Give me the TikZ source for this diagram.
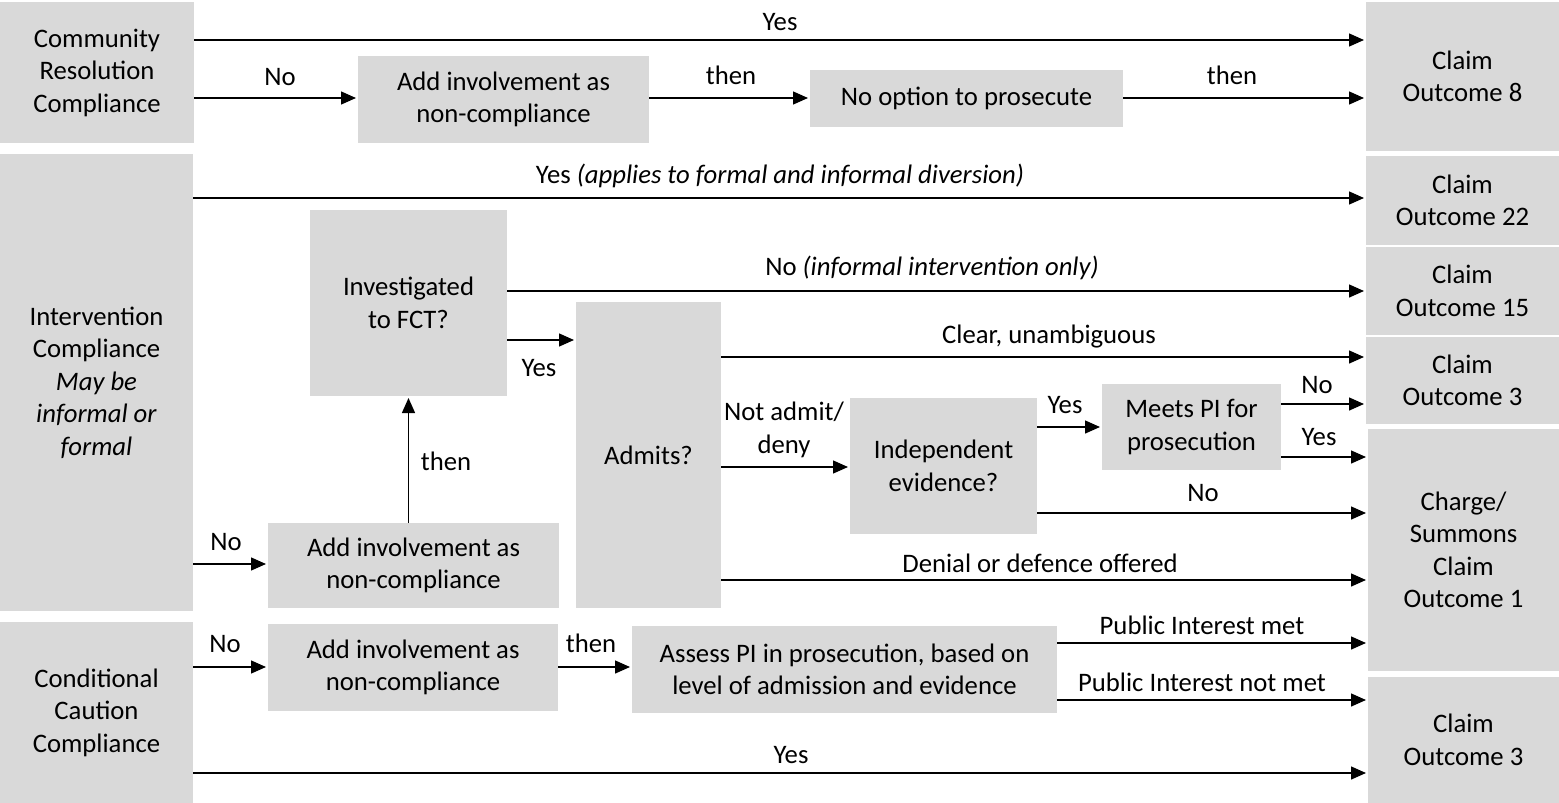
\documentclass[tikz,border=0pt]{standalone}
\usepackage{xcolor}
\usepackage{fontspec}
\setmainfont{Carlito}
\usetikzlibrary{arrows.meta}

\definecolor{boxgrey}{HTML}{D9D9D9}

\tikzset{
	box/.style={fill=boxgrey,draw=none,align=center,inner sep=0pt,outer sep=0pt},
	lbl/.style={align=center,inner sep=0pt},
	arr/.style={-{Triangle[length=15pt,width=13pt]},line width=1.4pt,shorten >=2pt},
}

\begin{document}
\begin{tikzpicture}[x=1pt,y=-1pt,font=\fontsize{26.7pt}{32.5pt}\selectfont]
			\useasboundingbox (0,0) rectangle (1559,803);
			% left column
			\node[box,minimum width=194pt,minimum height=141pt] at (97,72.5) (cr) {Community\\Resolution\\Compliance};
			\node[box,minimum width=193pt,minimum height=457pt] at (96.5,382.5) (inter) {Intervention\\Compliance\\\textit{May be}\\\textit{informal or}\\\textit{formal}};
			\node[box,minimum width=193pt,minimum height=181pt] at (96.5,712.5) (cc) {Conditional\\Caution\\Compliance};
			% middle
			\node[box,minimum width=291pt,minimum height=87pt] at (503.5,99.5) (addA) {Add involvement as\\non-compliance};
			\node[box,minimum width=313pt,minimum height=57pt] at (966.5,98.5) (noopt) {No option to prosecute};
			\node[box,minimum width=197pt,minimum height=186pt] at (408.5,303) (invest) {Investigated\\to FCT?};
			\node[box,minimum width=291pt,minimum height=85pt] at (413.5,565.5) (addB) {Add involvement as\\non-compliance};
			\node[box,minimum width=145pt,minimum height=306pt] at (648.5,455) (admits) {Admits?};
			\node[box,minimum width=187pt,minimum height=136pt] at (943.5,466) (indep) {Independent\\evidence?};
			\node[box,minimum width=179pt,minimum height=86pt] at (1191.5,427) (meets) {Meets PI for\\prosecution};
			\node[box,minimum width=290pt,minimum height=87pt] at (413,667.5) (addC) {Add involvement as\\non-compliance};
			\node[box,minimum width=425pt,minimum height=87pt] at (844.5,669.5) (assess) {Assess PI in prosecution, based on\\level of admission and evidence};
			% right column
			\node[box,minimum width=193pt,minimum height=149pt] at (1462.5,76.5) (o8) {Claim\\Outcome 8};
			\node[box,minimum width=193pt,minimum height=89pt] at (1462.5,200.5) (o22) {Claim\\Outcome 22};
			\node[box,minimum width=193pt,minimum height=88pt] at (1462.5,291) (o15) {Claim\\Outcome 15};
			\node[box,minimum width=193pt,minimum height=87pt] at (1462.5,380.5) (o3a) {Claim\\Outcome 3};
			\node[box,minimum width=191pt,minimum height=242pt] at (1463.5,550) (charge) {Charge/\\Summons\\Claim\\Outcome 1};
			\node[box,minimum width=191pt,minimum height=126pt] at (1463.5,740) (o3b) {Claim\\Outcome 3};

			% Community Resolution
			\draw[arr] (cr.east |- 0,40) -- (o8.west |- 0,40);
			\draw[arr] (cr.east |- 0,98) -- (addA.west |- 0,98);
			\draw[arr] (addA.east |- 0,98) -- (noopt.west |- 0,98);
			\draw[arr] (noopt.east |- 0,98) -- (o8.west |- 0,98);
			\node[lbl] at (780,22) (yesA) {Yes};
			\node[lbl] at (280,77) (noA) {No};
			\node[lbl] at (731,75) (thenA) {then};
			\node[lbl] at (1232,75) (thenB) {then};

			% Intervention
			\draw[arr] (inter.east |- 0,198) -- (o22.west |- 0,198);
			\draw[arr] (invest.east |- 0,291) -- (o15.west |- 0,291);
			\draw[arr] (invest.east |- 0,340) -- (admits.west |- 0,340);
			\draw[arr] (inter.east |- 0,564) -- (addB.west |- 0,564);
			\draw[arr] (invest.south |- addB.north) -- (invest.south);
			\draw[arr] (admits.east |- 0,357) -- (o3a.west |- 0,357);
			\draw[arr] (admits.east |- 0,467) -- (indep.west |- 0,467);
			\draw[arr] (indep.east |- 0,427) -- (meets.west |- 0,427);
			\draw[arr] (meets.east |- 0,404) -- (o3a.west |- 0,404);
			\draw[arr] (meets.east |- 0,457) -- (charge.west |- 0,457);
			\draw[arr] (indep.east |- 0,513) -- (charge.west |- 0,513);
			\draw[arr] (admits.east |- 0,580) -- (charge.west |- 0,580);
			\node[lbl] at (780,176) (yesB) {Yes \textit{(applies to formal and informal diversion)}};
			\node[lbl] at (932,268) (noB) {No \textit{(informal intervention only)}};
			\node[lbl] at (539,368) (yesC) {Yes};
			\node[lbl] at (446,461) (thenC) {then};
			\node[lbl] at (226,542) (noC) {No};
			\node[lbl] at (1049,337) (clear) {Clear, unambiguous};
			\node[lbl] at (784,430) (notadmit) {Not admit/\\deny};
			\node[lbl] at (1065,405) (yesD) {Yes};
			\node[lbl] at (1317,385) (noD) {No};
			\node[lbl] at (1319,437) (yesE) {Yes};
			\node[lbl] at (1203,493) (noE) {No};
			\node[lbl] at (1040,563) (denial) {Denial or defence offered};

			% Conditional Caution
			\draw[arr] (cc.east |- 0,667) -- (addC.west |- 0,667);
			\draw[arr] (addC.east |- 0,667) -- (assess.west |- 0,667);
			\draw[arr] (assess.east |- 0,643) -- (charge.west |- 0,643);
			\draw[arr] (assess.east |- 0,700) -- (o3b.west |- 0,700);
			\draw[arr] (cc.east |- 0,773) -- (o3b.west |- 0,773);
			\node[lbl] at (225,644) (noF) {No};
			\node[lbl] at (591,643) (thenD) {then};
			\node[lbl] at (1202,625) (pimet) {Public Interest met};
			\node[lbl] at (1202,682) (pinot) {Public Interest not met};
			\node[lbl] at (791,755) (yesF) {Yes};
\end{tikzpicture}
\end{document}
